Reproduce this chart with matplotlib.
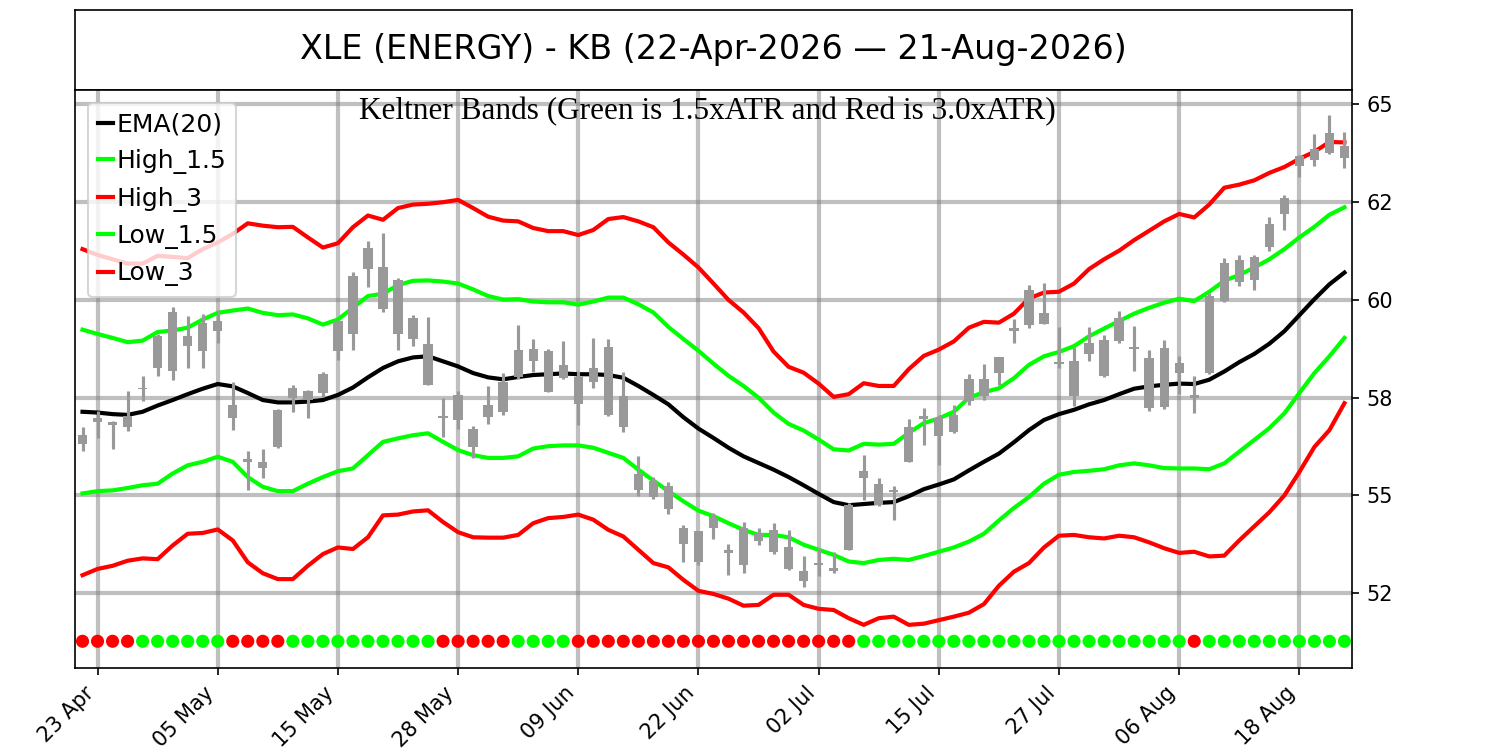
import numpy as np
import matplotlib
matplotlib.use('Agg')
import matplotlib.pyplot as plt
from matplotlib.ticker import FormatStrFormatter

# daily bars, 22-Apr-2026 .. 21-Aug-2026 (85 sessions)
opens = [56.55, 56.98, 56.89, 57.02, 57.75, 59.08, 59.68, 59.08, 59.40, 59.47,
         57.32, 55.94, 55.86, 57.19, 57.74, 57.66, 58.10, 59.47, 60.60, 61.32,
         60.84, 60.50, 59.55, 58.88, 57.00, 57.57, 56.71, 57.31, 57.91, 58.73,
         58.75, 58.70, 58.34, 58.04, 58.26, 58.79, 57.55, 55.55, 55.38, 55.25,
         54.17, 54.08, 54.46, 53.61, 54.16, 54.03, 54.12, 53.67, 53.07, 53.28,
         53.14, 54.76, 55.63, 55.29, 55.14, 56.76, 57.03, 56.97, 57.05, 57.97,
         57.97, 58.53, 59.27, 60.26, 59.66, 58.42, 58.44, 58.89, 58.97, 59.55,
         58.80, 58.52, 58.78, 58.39, 57.56, 60.11, 60.94, 61.03, 61.09, 61.94,
         62.60, 63.69, 63.86, 64.27, 63.93]
closes = [56.32, 56.89, 56.79, 56.74, 57.71, 58.26, 58.18, 58.82, 58.69, 59.21,
          56.98, 55.86, 55.69, 56.25, 57.50, 57.44, 57.61, 58.69, 59.12, 60.80,
          59.77, 59.12, 58.99, 57.83, 56.97, 56.92, 56.23, 57.00, 57.14, 58.04,
          58.45, 57.65, 58.00, 57.35, 57.91, 57.07, 56.75, 55.15, 54.95, 54.65,
          53.77, 53.31, 54.16, 53.52, 53.21, 53.84, 53.56, 53.12, 52.82, 53.22,
          53.07, 53.61, 55.44, 54.76, 55.08, 55.86, 56.95, 56.52, 56.63, 57.41,
          57.54, 58.14, 59.21, 59.37, 59.38, 58.36, 57.54, 58.63, 58.06, 58.94,
          58.74, 57.23, 57.27, 58.13, 57.50, 58.13, 59.98, 60.45, 60.51, 61.35,
          62.21, 63.43, 63.58, 63.77, 63.63]
highs = [56.75, 57.16, 56.91, 57.68, 58.05, 59.12, 59.83, 59.60, 59.64, 59.74,
         57.90, 56.13, 56.20, 57.22, 57.83, 57.70, 58.17, 59.48, 60.72, 61.52,
         61.71, 60.57, 59.62, 59.57, 57.48, 57.67, 56.78, 57.81, 58.13, 59.36,
         59.01, 58.75, 58.94, 58.19, 59.03, 59.01, 58.15, 56.02, 55.46, 55.34,
         54.24, 54.10, 54.54, 53.75, 54.33, 54.16, 54.29, 54.12, 53.46, 53.65,
         53.56, 54.80, 56.03, 55.44, 55.23, 56.95, 57.24, 57.07, 57.31, 58.10,
         58.37, 58.54, 59.51, 60.37, 60.43, 59.30, 58.80, 59.32, 59.11, 59.71,
         59.34, 58.71, 58.97, 58.56, 58.05, 60.19, 61.08, 61.16, 61.14, 62.12,
         62.68, 63.71, 64.25, 64.72, 64.29]
lows = [56.13, 56.46, 56.19, 56.65, 57.41, 58.05, 57.94, 58.26, 58.25, 58.91,
        56.68, 55.13, 55.45, 56.22, 57.14, 56.97, 57.53, 58.47, 58.73, 60.33,
        59.68, 58.73, 58.82, 57.83, 56.49, 56.69, 55.97, 56.84, 57.07, 57.98,
        58.17, 57.64, 57.98, 56.81, 57.76, 57.04, 56.62, 54.99, 54.92, 54.52,
        53.29, 53.21, 53.89, 52.97, 53.01, 53.72, 53.50, 53.10, 52.67, 52.95,
        53.01, 53.61, 54.88, 54.74, 54.37, 55.85, 56.30, 55.79, 56.60, 57.31,
        57.43, 57.83, 58.91, 59.28, 59.38, 58.27, 57.29, 58.44, 58.03, 58.89,
        58.18, 57.15, 57.21, 57.59, 57.10, 58.11, 59.96, 60.36, 60.25, 61.25,
        61.80, 63.14, 63.43, 63.74, 63.37]

ema20 = [57.14, 57.12, 57.08, 57.06, 57.14, 57.30, 57.44, 57.59, 57.73, 57.85,
         57.79, 57.62, 57.44, 57.38, 57.38, 57.40, 57.44, 57.57, 57.76, 58.02,
         58.26, 58.43, 58.53, 58.56, 58.43, 58.30, 58.13, 58.02, 57.97, 58.03,
         58.08, 58.10, 58.12, 58.10, 58.10, 58.08, 58.01, 57.80, 57.57, 57.33,
         57.00, 56.71, 56.47, 56.22, 56.00, 55.83, 55.66, 55.47, 55.26, 55.04,
         54.83, 54.75, 54.78, 54.81, 54.83, 54.98, 55.16, 55.28, 55.41, 55.64,
         55.86, 56.07, 56.36, 56.67, 56.93, 57.08, 57.19, 57.33, 57.44, 57.59,
         57.73, 57.79, 57.83, 57.86, 57.85, 57.96, 58.17, 58.41, 58.62, 58.88,
         59.20, 59.61, 60.02, 60.40, 60.70]
high_15 = [59.24, 59.13, 59.03, 58.92, 58.96, 59.18, 59.22, 59.29, 59.50, 59.67,
           59.73, 59.78, 59.67, 59.61, 59.63, 59.53, 59.37, 59.50, 59.80, 60.10,
           60.16, 60.38, 60.49, 60.50, 60.47, 60.42, 60.27, 60.10, 60.01, 60.02,
           59.96, 59.94, 59.94, 59.88, 59.96, 60.06, 60.06, 59.89, 59.68, 59.31,
           59.00, 58.70, 58.37, 58.06, 57.80, 57.50, 57.12, 56.83, 56.66, 56.43,
           56.18, 56.15, 56.32, 56.30, 56.32, 56.60, 56.85, 56.97, 57.14, 57.50,
           57.64, 57.74, 58.00, 58.34, 58.56, 58.67, 58.82, 59.07, 59.27, 59.46,
           59.65, 59.80, 59.93, 60.03, 59.97, 60.21, 60.49, 60.64, 60.83, 61.04,
           61.30, 61.60, 61.87, 62.18, 62.37]
high_3 = [61.30, 61.15, 61.04, 60.93, 60.93, 61.13, 61.10, 61.07, 61.30, 61.47,
          61.69, 61.96, 61.90, 61.86, 61.87, 61.60, 61.34, 61.45, 61.86, 62.16,
          62.05, 62.35, 62.44, 62.46, 62.50, 62.56, 62.35, 62.13, 62.03, 62.01,
          61.84, 61.76, 61.76, 61.66, 61.79, 62.07, 62.12, 62.01, 61.86, 61.47,
          61.16, 60.83, 60.42, 60.00, 59.68, 59.28, 58.68, 58.29, 58.14, 57.86,
          57.52, 57.59, 57.87, 57.80, 57.80, 58.23, 58.57, 58.73, 58.94, 59.29,
          59.44, 59.42, 59.65, 60.04, 60.19, 60.21, 60.42, 60.79, 61.04, 61.26,
          61.53, 61.77, 62.01, 62.20, 62.11, 62.44, 62.87, 62.95, 63.06, 63.25,
          63.40, 63.61, 63.79, 64.04, 64.03]
low_15 = [55.05, 55.11, 55.13, 55.19, 55.26, 55.30, 55.56, 55.77, 55.86, 55.99,
          55.86, 55.47, 55.22, 55.11, 55.11, 55.30, 55.47, 55.62, 55.69, 56.03,
          56.37, 56.46, 56.54, 56.59, 56.37, 56.16, 56.03, 55.96, 55.96, 56.00,
          56.20, 56.26, 56.28, 56.28, 56.22, 56.09, 55.96, 55.66, 55.38, 55.11,
          54.85, 54.61, 54.47, 54.29, 54.12, 53.99, 53.99, 53.93, 53.74, 53.61,
          53.48, 53.31, 53.27, 53.35, 53.38, 53.35, 53.45, 53.56, 53.67, 53.82,
          54.02, 54.36, 54.68, 54.96, 55.30, 55.53, 55.60, 55.63, 55.67, 55.77,
          55.82, 55.77, 55.70, 55.69, 55.69, 55.67, 55.82, 56.12, 56.42, 56.72,
          57.10, 57.62, 58.13, 58.56, 59.03]
low_3 = [52.96, 53.12, 53.20, 53.33, 53.39, 53.37, 53.72, 54.02, 54.04, 54.13,
         53.85, 53.29, 53.01, 52.86, 52.86, 53.20, 53.50, 53.67, 53.63, 53.93,
         54.49, 54.51, 54.59, 54.62, 54.32, 54.06, 53.93, 53.92, 53.92, 53.99,
         54.29, 54.42, 54.45, 54.51, 54.38, 54.12, 53.95, 53.61, 53.27, 53.16,
         52.84, 52.56, 52.48, 52.36, 52.18, 52.20, 52.46, 52.46, 52.20, 52.10,
         52.07, 51.86, 51.69, 51.86, 51.90, 51.69, 51.72, 51.81, 51.90, 52.00,
         52.22, 52.69, 53.05, 53.27, 53.67, 53.97, 53.99, 53.93, 53.90, 53.97,
         53.93, 53.80, 53.65, 53.53, 53.56, 53.44, 53.46, 53.85, 54.21, 54.57,
         55.00, 55.60, 56.24, 56.67, 57.36]

# signal dots along the bottom: 1 = red, 0 = green
signal = [1, 1, 1, 1, 0, 0, 0, 0, 0, 0, 1, 1, 1, 1, 0, 0, 0, 0, 0, 0,
          0, 0, 0, 0, 1, 1, 1, 1, 1, 0, 0, 0, 0, 1, 1, 1, 1, 1, 1, 1,
          1, 1, 1, 1, 1, 1, 1, 1, 1, 1, 1, 1, 0, 0, 0, 0, 0, 0, 0, 0,
          0, 0, 0, 0, 0, 0, 0, 0, 0, 0, 0, 0, 0, 0, 1, 0, 0, 0, 0, 0,
          0, 0, 0, 0, 0]
signal_level = 51.27

tick_pos = [1, 9, 17, 25, 33, 41, 49, 57, 65, 73, 81]
tick_labels = ['23 Apr', '05 May', '15 May', '28 May', '09 Jun', '22 Jun',
               '02 Jul', '15 Jul', '27 Jul', '06 Aug', '18 Aug']

title = 'XLE (ENERGY) - KB (22-Apr-2026 \u2014 21-Aug-2026)'
subtitle = 'Keltner Bands (Green is 1.5xATR and Red is 3.0xATR)'


def plot_kb():
    x = np.arange(len(closes))
    o, c = np.array(opens), np.array(closes)
    fig = plt.figure(figsize=(10, 5), dpi=150)

    # title box
    tax = fig.add_axes([0.05, 0.88, 0.8513, 0.107])
    tax.set_xticks([])
    tax.set_yticks([])
    tax.text(0.5, 0.5, title, ha='center', va='center', fontsize=16,
             transform=tax.transAxes)

    ax = fig.add_axes([0.05, 0.109, 0.8513, 0.771])
    ax.set_axisbelow(True)
    ax.grid(True, color='gray', alpha=0.5, linewidth=2)

    ax.plot(x, ema20, color='black', lw=2, label='EMA(20)', zorder=2)
    ax.plot(x, high_15, color='#00ff00', lw=2, label='High_1.5', zorder=2)
    ax.plot(x, high_3, color='#ff0000', lw=2, label='High_3', zorder=2)
    ax.plot(x, low_15, color='#00ff00', lw=2, label='Low_1.5', zorder=2)
    ax.plot(x, low_3, color='#ff0000', lw=2, label='Low_3', zorder=2)

    # candles
    ax.vlines(x, lows, highs, color='#999999', lw=1.5, zorder=3)
    bot = np.minimum(o, c)
    ht = np.maximum(np.abs(o - c), 0.05)
    ax.bar(x, ht, 0.62, bottom=bot, color='#999999', zorder=3)

    cols = ['#ff0000' if s else '#00ff00' for s in signal]
    ax.scatter(x, [signal_level] * len(x), c=cols, s=28, zorder=4)

    ax.set_xlim(-0.5, 84.5)
    ax.set_ylim(50.58, 65.37)
    ax.yaxis.tick_right()
    ax.set_yticks(np.arange(52.5, 65.1, 2.5))
    ax.yaxis.set_major_formatter(FormatStrFormatter('%.0f'))
    ax.set_xticks(tick_pos)
    ax.set_xticklabels(tick_labels, rotation=45, ha='right')

    ax.text(0.495, 0.988, subtitle, transform=ax.transAxes, ha='center',
            va='top', fontsize=15, family='Liberation Serif')
    ax.legend(loc='upper left', fontsize=12, handlelength=0.6,
              handletextpad=0.15)

    fig.savefig('out.png', dpi=150)


if __name__ == '__main__':
    plot_kb()
